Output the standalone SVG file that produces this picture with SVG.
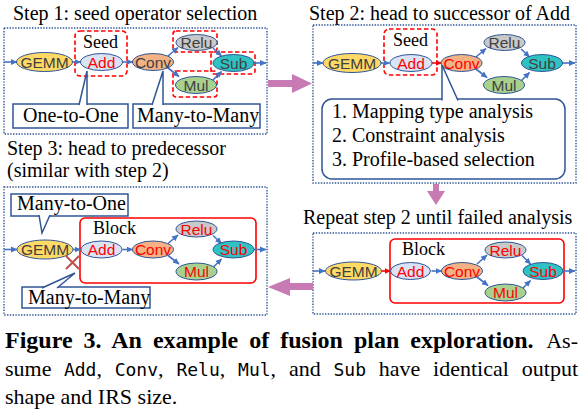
<svg xmlns="http://www.w3.org/2000/svg" width="584" height="415" viewBox="0 0 584 415">
<style>
.bg{fill:#fff}
.panel{fill:none;stroke:#2F5597;stroke-width:1.4;stroke-dasharray:1.4 1.4}
.n{stroke:#2F5597;stroke-width:1}
.gemm{fill:#FFD966}.add{fill:#DAE3F3}.conv{fill:#F4B183}.relu{fill:#C9C9C9}.mul{fill:#A9D18E}.sub{fill:#2EC2C2}
.t{font-family:"Liberation Sans",Arial,sans-serif;font-size:15.5px;fill:#404040;text-anchor:middle}
.r{fill:#FF0000}
.ser{font-family:"Liberation Serif","Times New Roman",serif;font-size:20px;fill:#000}
.cl{font-family:"Liberation Serif","Times New Roman",serif;font-size:20px;fill:#000}
.sm{font-family:"Liberation Serif","Times New Roman",serif;font-size:18px;fill:#000}
.c{fill:none;stroke:#4472C4;stroke-width:1.6;marker-end:url(#ah)}
.cr{fill:none;stroke:#FF0000;stroke-width:1.6;marker-end:url(#ahr)}
.dash{fill:none;stroke:#FF0000;stroke-width:1.6;stroke-dasharray:4.5 2.5}
.blk{fill:none;stroke:#FF0000;stroke-width:1.6}
.co{fill:#fff;stroke:#2F5597;stroke-width:1.5}
.pu{fill:#C77AB4}
.cap{font-family:"Liberation Serif","Times New Roman",serif;font-size:22px;fill:#000}
.capb{font-family:"Liberation Serif","Times New Roman",serif;font-size:24px;font-weight:bold;word-spacing:5px;fill:#000}
.mono{font-family:"DejaVu Sans Mono","Liberation Mono",monospace;font-size:18px;fill:#000}
</style>
<defs>
<marker id="ah" markerUnits="userSpaceOnUse" markerWidth="7" markerHeight="7" refX="6" refY="3.5" orient="auto"><path d="M0,0.5 L6.5,3.5 L0,6.5 z" fill="#4472C4"/></marker>
<marker id="ahr" markerUnits="userSpaceOnUse" markerWidth="7" markerHeight="7" refX="6" refY="3.5" orient="auto"><path d="M0,0.5 L6.5,3.5 L0,6.5 z" fill="#FF0000"/></marker>
</defs>
<rect class="bg" x="0" y="0" width="584" height="415"/>

<!-- Titles -->
<text class="ser" x="13" y="20">Step 1: seed operator selection</text>
<text class="ser" x="309" y="20">Step 2: head to successor of Add</text>
<text class="ser" x="7" y="155">Step 3: head to predecessor</text>
<text class="ser" x="7" y="177">(similar with step 2)</text>
<text class="ser" x="303" y="224">Repeat step 2 until failed analysis</text>

<!-- Panel frames -->
<rect class="panel" x="4" y="28" width="263" height="106"/>
<rect class="panel" x="313" y="25" width="263" height="158"/>
<rect class="panel" x="4" y="187" width="263" height="128"/>
<rect class="panel" x="313" y="233" width="263" height="81"/>

<!-- Transition arrows -->
<g id="transitions">
<path class="pu" d="M268,80 H292 V74 L312,83.5 L292,93 V87 H268 Z"/>
<path class="pu" d="M433,184 H439 V191 H445 L436,205 L427,191 H433 Z"/>
<path class="pu" d="M313,283 H290 V278 L268,287 L290,296 V290 H313 Z"/>
</g>

<!-- Highlight boxes -->
<rect class="dash" x="75" y="31" width="52" height="45" rx="5"/>
<rect class="dash" x="173" y="31" width="44" height="21" rx="3"/>
<rect class="dash" x="211" y="52" width="44" height="22" rx="3"/>
<rect class="dash" x="173" y="71" width="44" height="26" rx="3"/>
<rect class="dash" x="384" y="29" width="53" height="46" rx="5"/>
<rect class="blk" x="80" y="218" width="176" height="65" rx="5"/>
<rect class="blk" x="390" y="239" width="174" height="64" rx="5"/>
<text class="sm" x="83" y="48">Seed</text>
<text class="sm" x="393" y="46">Seed</text>
<text class="sm" x="93" y="234">Block</text>
<text class="sm" x="402" y="255">Block</text>

<!-- Connectors -->
<g id="connectors">
<g transform="translate(0,0)">
<path class="c" d="M4,62 H17"/><path class="c" d="M72.5,62 H80.5"/><path class="c" d="M122.5,62 H132.5"/>
<path class="c" d="M168,56 L178,47.5"/><path class="c" d="M168,68 L179,76.5"/>
<path class="c" d="M213,48 L221.5,56"/><path class="c" d="M213,80 L221.5,71.5"/><path class="c" d="M254,63 H266"/>
</g>
<g transform="translate(308,1)">
<path class="c" d="M5,62 H15"/><path class="c" d="M73,62 H81.5"/><path class="cr" d="M124,62 H133.5"/>
<path class="c" d="M168,56 L178,47.5"/><path class="c" d="M168,68 L179,76.5"/>
<path class="c" d="M213,48 L221.5,56"/><path class="c" d="M213,80 L221.5,71.5"/><path class="c" d="M254,62 H267"/>
</g>
<g transform="translate(0,187.5)">
<path class="c" d="M4,62 H17"/><path class="c" d="M73,62 H80.5"/><path class="c" d="M122.5,62 H132.5"/>
<path class="c" d="M168,56 L178,47.5"/><path class="c" d="M168,68 L179,76.5"/>
<path class="c" d="M213,48 L221.5,56"/><path class="c" d="M213,80 L221.5,71.5"/><path class="c" d="M254,62 H266"/>
</g>
<g transform="translate(309,209)">
<path class="c" d="M4,62 H16"/><path class="cr" d="M73,62 H81.5"/><path class="c" d="M122.5,62 H132.5"/>
<path class="c" d="M168,55 L178,46"/><path class="c" d="M168,68 L179,76.5"/>
<path class="c" d="M213,46.5 L221.5,55"/><path class="c" d="M213,80 L221.5,71.5"/><path class="c" d="M254,62 H266"/>
</g>
</g>

<!-- Panel 1 nodes -->
<g id="p1-gemm"><ellipse class="n gemm" cx="44.5" cy="62" rx="28" ry="9.5"/><text class="t" x="44.5" y="67.5">GEMM</text></g>
<g id="p1-add"><ellipse class="n add" cx="101.5" cy="62" rx="21" ry="8.5"/><text class="t r" x="101.5" y="67.5">Add</text></g>
<g id="p1-conv"><ellipse class="n conv" cx="153" cy="62" rx="20.5" ry="8.5"/><text class="t" x="153" y="67.5">Conv</text></g>
<g id="p1-relu"><ellipse class="n relu" cx="196.5" cy="42.5" rx="20.5" ry="8"/><text class="t" x="196.5" y="48">Relu</text></g>
<g id="p1-mul"><ellipse class="n mul" cx="196" cy="85" rx="20.5" ry="8.5"/><text class="t" x="196" y="90.5">Mul</text></g>
<g id="p1-sub"><ellipse class="n sub" cx="233.5" cy="63" rx="20.5" ry="8.5"/><text class="t" x="233.5" y="68.5">Sub</text></g>

<!-- Panel 2 nodes -->
<g id="p2-gemm"><ellipse class="n gemm" cx="352" cy="63" rx="29" ry="9.5"/><text class="t" x="352" y="68.5">GEMM</text></g>
<g id="p2-add"><ellipse class="n add" cx="411" cy="63" rx="21" ry="8.5"/><text class="t r" x="411" y="68.5">Add</text></g>
<g id="p2-conv"><ellipse class="n conv" cx="461.5" cy="63" rx="20.5" ry="8.5"/><text class="t r" x="461.5" y="68.5">Conv</text></g>
<g id="p2-relu"><ellipse class="n relu" cx="504.5" cy="42.5" rx="20.5" ry="8"/><text class="t" x="504.5" y="48">Relu</text></g>
<g id="p2-mul"><ellipse class="n mul" cx="504" cy="85" rx="20.5" ry="8.5"/><text class="t" x="504" y="90.5">Mul</text></g>
<g id="p2-sub"><ellipse class="n sub" cx="542" cy="63" rx="20.5" ry="8.5"/><text class="t" x="542" y="68.5">Sub</text></g>

<!-- Panel 3 nodes -->
<g id="p3-gemm"><ellipse class="n gemm" cx="45" cy="249.5" rx="28" ry="9.5"/><text class="t" x="45" y="255">GEMM</text></g>
<g id="p3-add"><ellipse class="n add" cx="101.5" cy="249.5" rx="20.5" ry="8.5"/><text class="t r" x="101.5" y="255">Add</text></g>
<g id="p3-conv"><ellipse class="n conv" cx="153" cy="249.5" rx="20.5" ry="8.5"/><text class="t r" x="153" y="255">Conv</text></g>
<g id="p3-relu"><ellipse class="n relu" cx="196.5" cy="229" rx="20.5" ry="8"/><text class="t r" x="196.5" y="234.5">Relu</text></g>
<g id="p3-mul"><ellipse class="n mul" cx="196.5" cy="271.5" rx="20.5" ry="8.5"/><text class="t r" x="196.5" y="277">Mul</text></g>
<g id="p3-sub"><ellipse class="n sub" cx="233.5" cy="249.5" rx="20.5" ry="8.5"/><text class="t r" x="233.5" y="255">Sub</text></g>

<!-- Panel 4 nodes -->
<g id="p4-gemm"><ellipse class="n gemm" cx="353.5" cy="271" rx="28" ry="9"/><text class="t" x="353.5" y="276.5">GEMM</text></g>
<g id="p4-add"><ellipse class="n add" cx="410.5" cy="271" rx="20" ry="8.5"/><text class="t r" x="410.5" y="276.5">Add</text></g>
<g id="p4-conv"><ellipse class="n conv" cx="462" cy="271" rx="20.5" ry="8.5"/><text class="t r" x="462" y="276.5">Conv</text></g>
<g id="p4-relu"><ellipse class="n relu" cx="505.5" cy="250" rx="20.5" ry="8"/><text class="t r" x="505.5" y="255.5">Relu</text></g>
<g id="p4-mul"><ellipse class="n mul" cx="505.5" cy="292.5" rx="20.5" ry="8.5"/><text class="t r" x="505.5" y="298">Mul</text></g>
<g id="p4-sub"><ellipse class="n sub" cx="543" cy="271" rx="20" ry="8.5"/><text class="t r" x="543" y="276.5">Sub</text></g>

<!-- Cross mark -->
<g id="cross"><path d="M66,256 L79,269 M66,269 L79,256" stroke="#C0504D" stroke-width="2" fill="none"/></g>

<!-- Callouts -->
<g id="callout-one-to-one">
<rect class="co" x="13" y="104" width="115" height="24"/>
<path class="co" d="M79,105 L87,71 L87,105"/>
<text class="cl" x="23" y="122">One-to-One</text>
</g>
<g id="callout-many-to-many-1">
<rect class="co" x="133" y="104" width="127" height="24"/>
<path class="co" d="M152,105 L163,71 L163,105"/>
<text class="cl" x="137" y="122">Many-to-Many</text>
</g>
<g id="callout-analysis">
<rect class="co" x="322" y="99" width="243" height="80" rx="10"/>
<path class="co" d="M442,100.5 L442,65 L458,100.5"/>
<text class="cl" x="332" y="118">1. Mapping type analysis</text>
<text class="cl" x="332" y="142">2. Constraint analysis</text>
<text class="cl" x="332" y="166">3. Profile-based selection</text>
</g>
<g id="callout-many-to-one">
<rect class="co" x="11" y="194" width="117" height="22"/>
<path class="co" d="M39,215 L42,233 L50,215"/>
<text class="cl" x="17" y="210">Many-to-One</text>
</g>
<g id="callout-many-to-many-3">
<rect class="co" x="22" y="287" width="128" height="21"/>
<path class="co" d="M42,288 L75,273 L57,288"/>
<text class="cl" x="28" y="304">Many-to-Many</text>
</g>

<!-- Caption -->
<text class="capb" x="5" y="348">Figure 3. An example of fusion plan exploration.</text>
<text class="cap" x="578" y="348" text-anchor="end">As-</text>
<text class="cap" x="5" y="376">sume</text>
<text class="mono" x="63.9" y="376">Add</text><text class="cap" x="96.4" y="376">,</text>
<text class="mono" x="114.7" y="376">Conv</text><text class="cap" x="158.1" y="376">,</text>
<text class="mono" x="176.4" y="376">Relu</text><text class="cap" x="219.8" y="376">,</text>
<text class="mono" x="238.1" y="376">Mul</text><text class="cap" x="270.6" y="376">,</text>
<text class="cap" x="288.9" y="376">and</text>
<text class="mono" x="333.5" y="376">Sub</text>
<text class="cap" x="378.8" y="376">have</text>
<text class="cap" x="433.1" y="376">identical</text>
<text class="cap" x="578" y="376" text-anchor="end">output</text>
<text class="cap" x="5" y="404">shape and IRS size.</text>
</svg>
